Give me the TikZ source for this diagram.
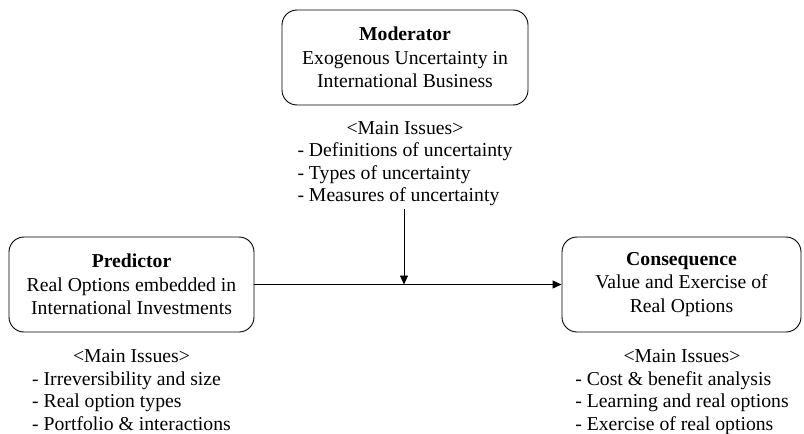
\documentclass[tikz,border=0pt]{standalone}
\usepackage{fontspec}
\setmainfont{Liberation Serif}
\usetikzlibrary{arrows.meta}
\begin{document}
\begin{tikzpicture}[x=1pt,y=-1pt,
 box/.style={draw, rounded corners=15pt, minimum height=95pt, align=center,
   font=\fontsize{19.7}{23.5}\selectfont, line width=0.9pt, inner sep=0pt},
 issues/.style={font=\fontsize{19.7}{22.5}\selectfont, inner sep=0pt},
 arr/.style={-{Triangle[length=9pt,width=8pt]}, line width=0.9pt}]
\useasboundingbox (0,0) rectangle (804,434);
\node[box, minimum width=246pt] (mod) at (405,57.5)
  {\textbf{Moderator}\\Exogenous Uncertainty in\\International Business};
\node[box, minimum width=245pt] (pred) at (131.5,284.5)
  {\textbf{Predictor}\\Real Options embedded in\\International Investments};
\node[box, minimum width=239pt] (cons) at (681.5,284.5)
  {\textbf{Consequence}\\Value and Exercise of\\Real Options};
\node[issues] (modlist) at (405,163.5)
  {\begin{tabular}{@{}l@{}}\multicolumn{1}{@{}c@{}}{<Main Issues>}\\
   - Definitions of uncertainty\\
   - Types of uncertainty\\
   - Measures of uncertainty\end{tabular}};
\node[issues] (predlist) at (131.5,392)
  {\begin{tabular}{@{}l@{}}\multicolumn{1}{@{}c@{}}{<Main Issues>}\\
   - Irreversibility and size\\
   - Real option types\\
   - Portfolio \& interactions\end{tabular}};
\node[issues] (conslist) at (682,392)
  {\begin{tabular}{@{}l@{}}\multicolumn{1}{@{}c@{}}{<Main Issues>}\\
   - Cost \& benefit analysis\\
   - Learning and real options\\
   - Exercise of real options\end{tabular}};
\draw[arr] (pred.east) -- (cons.west);
\draw[arr] ([xshift=-1pt]modlist.south) -- ([xshift=-1pt]modlist.south |- pred.east);
\end{tikzpicture}
\end{document}
